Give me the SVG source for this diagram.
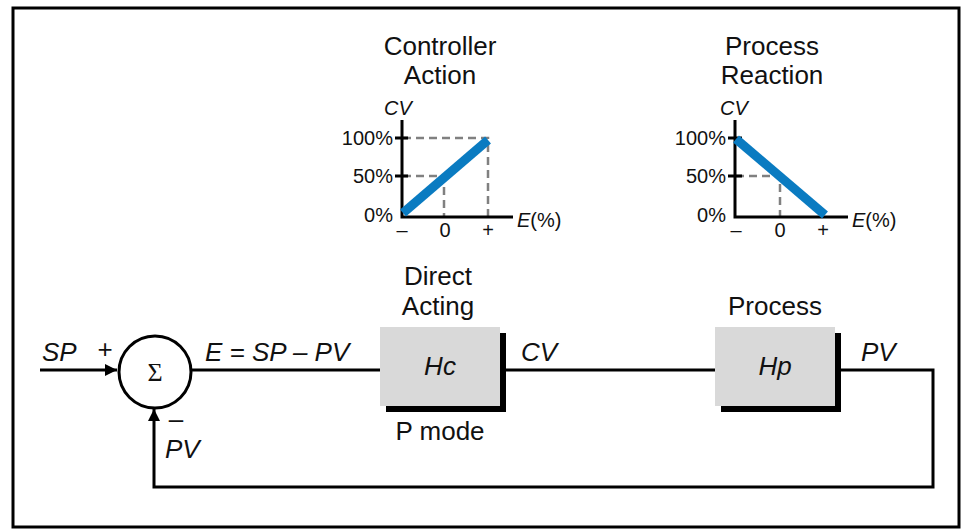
<svg xmlns="http://www.w3.org/2000/svg" width="961" height="529" viewBox="0 0 961 529">
<defs>
<style>
text{font-family:"Liberation Sans",Arial,sans-serif;fill:#111}
.t{font-size:26px}
.m{text-anchor:middle}
.e{text-anchor:end}
.i{font-style:italic}
.s{font-size:20px}
.ln{stroke:#000;stroke-width:3;fill:none}
.ax{stroke:#000;stroke-width:3;fill:none}
.dash{stroke:#808080;stroke-width:2.5;stroke-dasharray:8,5;fill:none}
.blue{stroke:#0a7bc1;stroke-width:9;fill:none}
.box{fill:#d9d9d9}
.sh{fill:#000}
</style>
<marker id="arr" viewBox="0 0 10 10" refX="10" refY="5" markerWidth="12" markerHeight="12" markerUnits="userSpaceOnUse" orient="auto"><path d="M0,0 L10,5 L0,10 z" fill="#000"/></marker>
</defs>
<rect x="0" y="0" width="961" height="529" fill="#fff"/>
<rect x="13" y="8" width="946" height="519" fill="none" stroke="#000" stroke-width="3"/>

<g id="chart-controller">
<text class="t m" x="440" y="55">Controller</text>
<text class="t m" x="440" y="84">Action</text>
<text class="s i" x="384" y="115">CV</text>
<path class="dash" d="M403,138 H488 V216 M403,176 H444 V216"/>
<path class="ax" d="M402,120 V217 H513 M395,138 H408 M395,176 H408"/>
<path class="blue" d="M403,213 L488,140"/>
<text class="s e" x="393" y="145">100%</text>
<text class="s e" x="393" y="183">50%</text>
<text class="s e" x="393" y="222">0%</text>
<text class="s" x="517" y="227"><tspan class="i">E</tspan>(%)</text>
<text class="s m" x="402" y="237">–</text>
<text class="s m" x="445" y="237">0</text>
<text class="s m" x="488" y="237">+</text>
</g>

<g id="chart-process">
<text class="t m" x="772" y="55">Process</text>
<text class="t m" x="772" y="84">Reaction</text>
<text class="s i" x="720" y="115">CV</text>
<path class="dash" d="M736,176 H780 V216"/>
<path class="ax" d="M735,120 V217 H848 M728,138 H742 M728,176 H742"/>
<path class="blue" d="M736,139 L825,215"/>
<text class="s e" x="726" y="145">100%</text>
<text class="s e" x="726" y="183">50%</text>
<text class="s e" x="726" y="222">0%</text>
<text class="s" x="852" y="227"><tspan class="i">E</tspan>(%)</text>
<text class="s m" x="736" y="237">–</text>
<text class="s m" x="780" y="237">0</text>
<text class="s m" x="823" y="237">+</text>
</g>

<g id="connectors">
<path class="ln" d="M40,370 H117" marker-end="url(#arr)"/>
<path class="ln" d="M192,370 H380"/>
<path class="ln" d="M506,370 H715"/>
<path class="ln" d="M840,370 H933 V487 H154 V409" marker-end="url(#arr)"/>
</g>

<g id="sum">
<circle cx="155" cy="372" r="36" fill="#fff" stroke="#000" stroke-width="3"/>
<text x="155" y="381" font-size="26" text-anchor="middle" style="font-family:'Liberation Serif',serif">Σ</text>
</g>

<g id="hc">
<rect class="sh" x="386" y="333" width="120" height="79"/>
<rect class="box" x="380" y="327" width="120" height="79"/>
<text class="t m i" x="440" y="375">Hc</text>
<text class="t m" x="438" y="285">Direct</text>
<text class="t m" x="438" y="315">Acting</text>
<text class="t m" x="440" y="440">P mode</text>
</g>

<g id="hp">
<rect class="sh" x="721" y="333" width="120" height="79"/>
<rect class="box" x="715" y="327" width="120" height="79"/>
<text class="t m i" x="775" y="375">Hp</text>
<text class="t m" x="775" y="315">Process</text>
</g>

<g id="labels">
<text class="t i" x="42" y="361">SP</text>
<text class="t m" x="105" y="358">+</text>
<text class="t i" x="205" y="361">E = SP – PV</text>
<text class="t i" x="521" y="361">CV</text>
<text class="t i" x="861" y="361">PV</text>
<text class="t m" x="176" y="428">–</text>
<text class="t i" x="165" y="458">PV</text>
</g>
</svg>
